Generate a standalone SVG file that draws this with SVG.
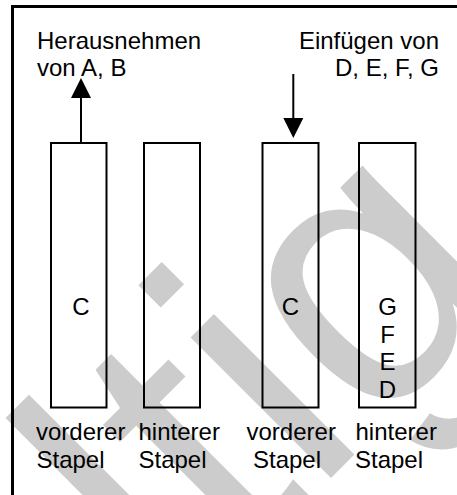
<svg xmlns="http://www.w3.org/2000/svg" width="457" height="495" viewBox="0 0 457 495">
  <defs>
    <style>
      .lbl { font-family: "Liberation Sans", Arial, Helvetica, sans-serif; font-size: 24px; fill: #000; }
      .mid { text-anchor: middle; }
      .end { text-anchor: end; }
      .stack { fill: none; stroke: #000; stroke-width: 2; }
      .wire { stroke: #000; stroke-width: 2; fill: none; }
      .wm { font-family: "Liberation Sans", Arial, Helvetica, sans-serif; font-size: 376px; fill: #cccccc; }
    </style>
  </defs>
  <rect x="0" y="0" width="457" height="495" fill="#fff"/>

  <!-- light watermark lettering, rotated by -45 degrees -->
  <g id="watermark" transform="rotate(-45)">
    <text class="wm" x="-317" y="572">ltig</text>
  </g>

  <!-- frame -->
  <path d="M12.5 495 V6.5 H457" fill="none" stroke="#000" stroke-width="3"/>

  <!-- headings -->
  <text class="lbl" x="37" y="49">Herausnehmen</text>
  <text class="lbl" x="37" y="76">von A, B</text>
  <text class="lbl end" x="439" y="49">Einfügen von</text>
  <text class="lbl end" x="439" y="76">D, E, F, G</text>

  <!-- left pair: before -->
  <g id="front-stack-1">
    <rect class="stack" x="51" y="143" width="55.5" height="264.5"/>
    <text class="lbl mid" x="81" y="315">C</text>
    <text class="lbl" x="36" y="440">vorderer</text>
    <text class="lbl" x="36.5" y="468">Stapel</text>
  </g>
  <g id="back-stack-1">
    <rect class="stack" x="144" y="143" width="56" height="264.5"/>
    <text class="lbl" x="138.5" y="440">hinterer</text>
    <text class="lbl" x="138.5" y="468">Stapel</text>
  </g>

  <!-- right pair: after -->
  <g id="front-stack-2">
    <rect class="stack" x="262.5" y="143" width="56" height="264.5"/>
    <text class="lbl mid" x="290.5" y="315">C</text>
    <text class="lbl" x="246.5" y="440">vorderer</text>
    <text class="lbl" x="253" y="468">Stapel</text>
  </g>
  <g id="back-stack-2">
    <rect class="stack" x="359" y="143" width="56.5" height="264.5"/>
    <text class="lbl mid" x="387.5" y="315">G</text>
    <text class="lbl mid" x="387.5" y="342.5">F</text>
    <text class="lbl mid" x="387.5" y="370">E</text>
    <text class="lbl mid" x="387.5" y="397.5">D</text>
    <text class="lbl" x="355.5" y="440">hinterer</text>
    <text class="lbl" x="355" y="468">Stapel</text>
  </g>

  <!-- connectors -->
  <g id="connectors">
    <line class="wire" x1="81" y1="143" x2="81" y2="97"/>
    <polygon points="81,78 71,98 91,98" fill="#000"/>
    <line class="wire" x1="293.3" y1="74" x2="293.3" y2="119"/>
    <polygon points="283.3,118 303.3,118 293.3,138" fill="#000"/>
  </g>
</svg>
